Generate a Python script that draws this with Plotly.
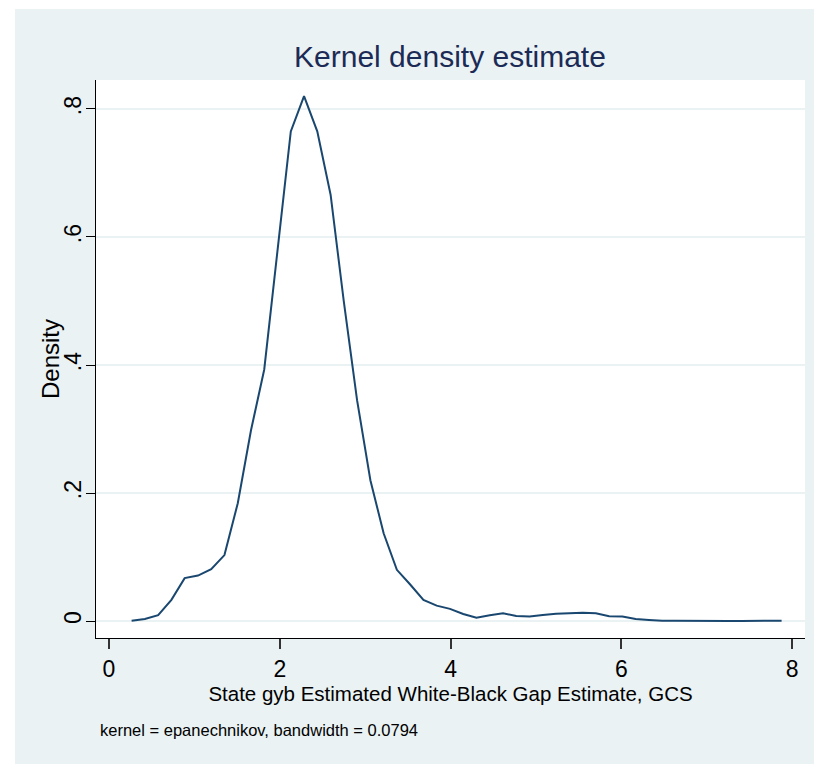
import plotly.graph_objects as go

# Kernel density estimate evaluation points (50 points, Stata kdensity default)
x_vals = [0.265, 0.420, 0.576, 0.731, 0.886, 1.042, 1.197, 1.352, 1.508, 1.663,
          1.818, 1.973, 2.129, 2.284, 2.439, 2.595, 2.750, 2.905, 3.061, 3.216,
          3.371, 3.527, 3.682, 3.837, 3.993, 4.148, 4.303, 4.459, 4.614, 4.769,
          4.925, 5.080, 5.235, 5.391, 5.546, 5.701, 5.857, 6.012, 6.167, 6.323,
          6.478, 6.633, 6.789, 6.944, 7.099, 7.255, 7.410, 7.565, 7.721, 7.876]
density = [0.0005, 0.003, 0.009, 0.033, 0.067, 0.071, 0.081, 0.103, 0.184, 0.298,
           0.393, 0.579, 0.765, 0.820, 0.765, 0.666, 0.499, 0.345, 0.220, 0.137,
           0.080, 0.057, 0.033, 0.024, 0.019, 0.011, 0.005, 0.009, 0.012, 0.008,
           0.007, 0.0094, 0.0115, 0.012, 0.0128, 0.012, 0.0075, 0.007, 0.003, 0.0016,
           0.0002, 0.0004, 0.0006, 0.0003, 0.0001, 0.0001, 0.0001, 0.0001, 0.0003, 0.0003]

x_ticks = [0, 2, 4, 6, 8]
x_tick_labels = ["0", "2", "4", "6", "8"]
y_ticks = [0, 0.2, 0.4, 0.6, 0.8]
y_tick_labels = ["0", ".2", ".4", ".6", ".8"]

title_text = "Kernel density estimate"
x_title = "State gyb Estimated White-Black Gap Estimate, GCS"
y_title = "Density"
note_text = "kernel = epanechnikov, bandwidth = 0.0794"

SANS = "Liberation Sans, Arial, sans-serif"
LIGHT = "#EAF2F3"

fig = go.Figure()
fig.add_trace(go.Scatter(x=x_vals, y=density, mode="lines",
                         line=dict(color="#1a476f", width=2), showlegend=False,
                         hoverinfo="x+y"))

fig.update_layout(
    width=822, height=767,
    margin=dict(l=88, r=25, t=72, b=137),
    paper_bgcolor="white", plot_bgcolor="white",
    title=dict(text=title_text, x=0.5377, xanchor="center", y=0.9374, yanchor="middle",
               yref="container", xref="container",
               font=dict(family=SANS, size=30, color="#1c2b56")),
    xaxis=dict(range=[-0.152, 8.15], tickmode="array", tickvals=x_ticks,
               ticktext=x_tick_labels, showgrid=False, zeroline=False,
               showline=True, linecolor="black", linewidth=1,
               ticks="outside", ticklen=10, tickwidth=1.5, tickcolor="#333333",
               tickfont=dict(family=SANS, size=23, color="black"),
               title=dict(text=x_title, standoff=4,
                          font=dict(family=SANS, size=20.5, color="black"))),
    yaxis=dict(range=[-0.02656, 0.8453], tickmode="array", tickvals=y_ticks,
               ticktext=y_tick_labels, showgrid=True, gridcolor=LIGHT, gridwidth=2,
               zeroline=False, showline=True, linecolor="black", linewidth=1,
               ticks="outside", ticklen=9, tickwidth=1, tickcolor="black",
               tickangle=-90, ticklabelstandoff=-4,
               tickfont=dict(family=SANS, size=23, color="black")),
    shapes=[
        dict(type="rect", xref="paper", yref="paper", x0=-0.1142, x1=1.05,
             y0=-0.2258, y1=1.1272, fillcolor=LIGHT, line=dict(width=0), layer="below"),
        dict(type="rect", xref="paper", yref="paper", x0=0, x1=1, y0=0, y1=1,
             fillcolor="white", line=dict(width=0), layer="below"),
    ],
    annotations=[
        dict(text=y_title, xref="paper", yref="paper", x=-0.0649, y=0.5,
             xanchor="center", yanchor="middle", textangle=-90, showarrow=False,
             font=dict(family=SANS, size=24, color="black")),
        dict(text=note_text, xref="paper", yref="paper", x=0.0028, y=-0.1649,
             xanchor="left", yanchor="middle", showarrow=False,
             font=dict(family=SANS, size=16.5, color="black")),
    ],
)

fig.write_html("out.html")
